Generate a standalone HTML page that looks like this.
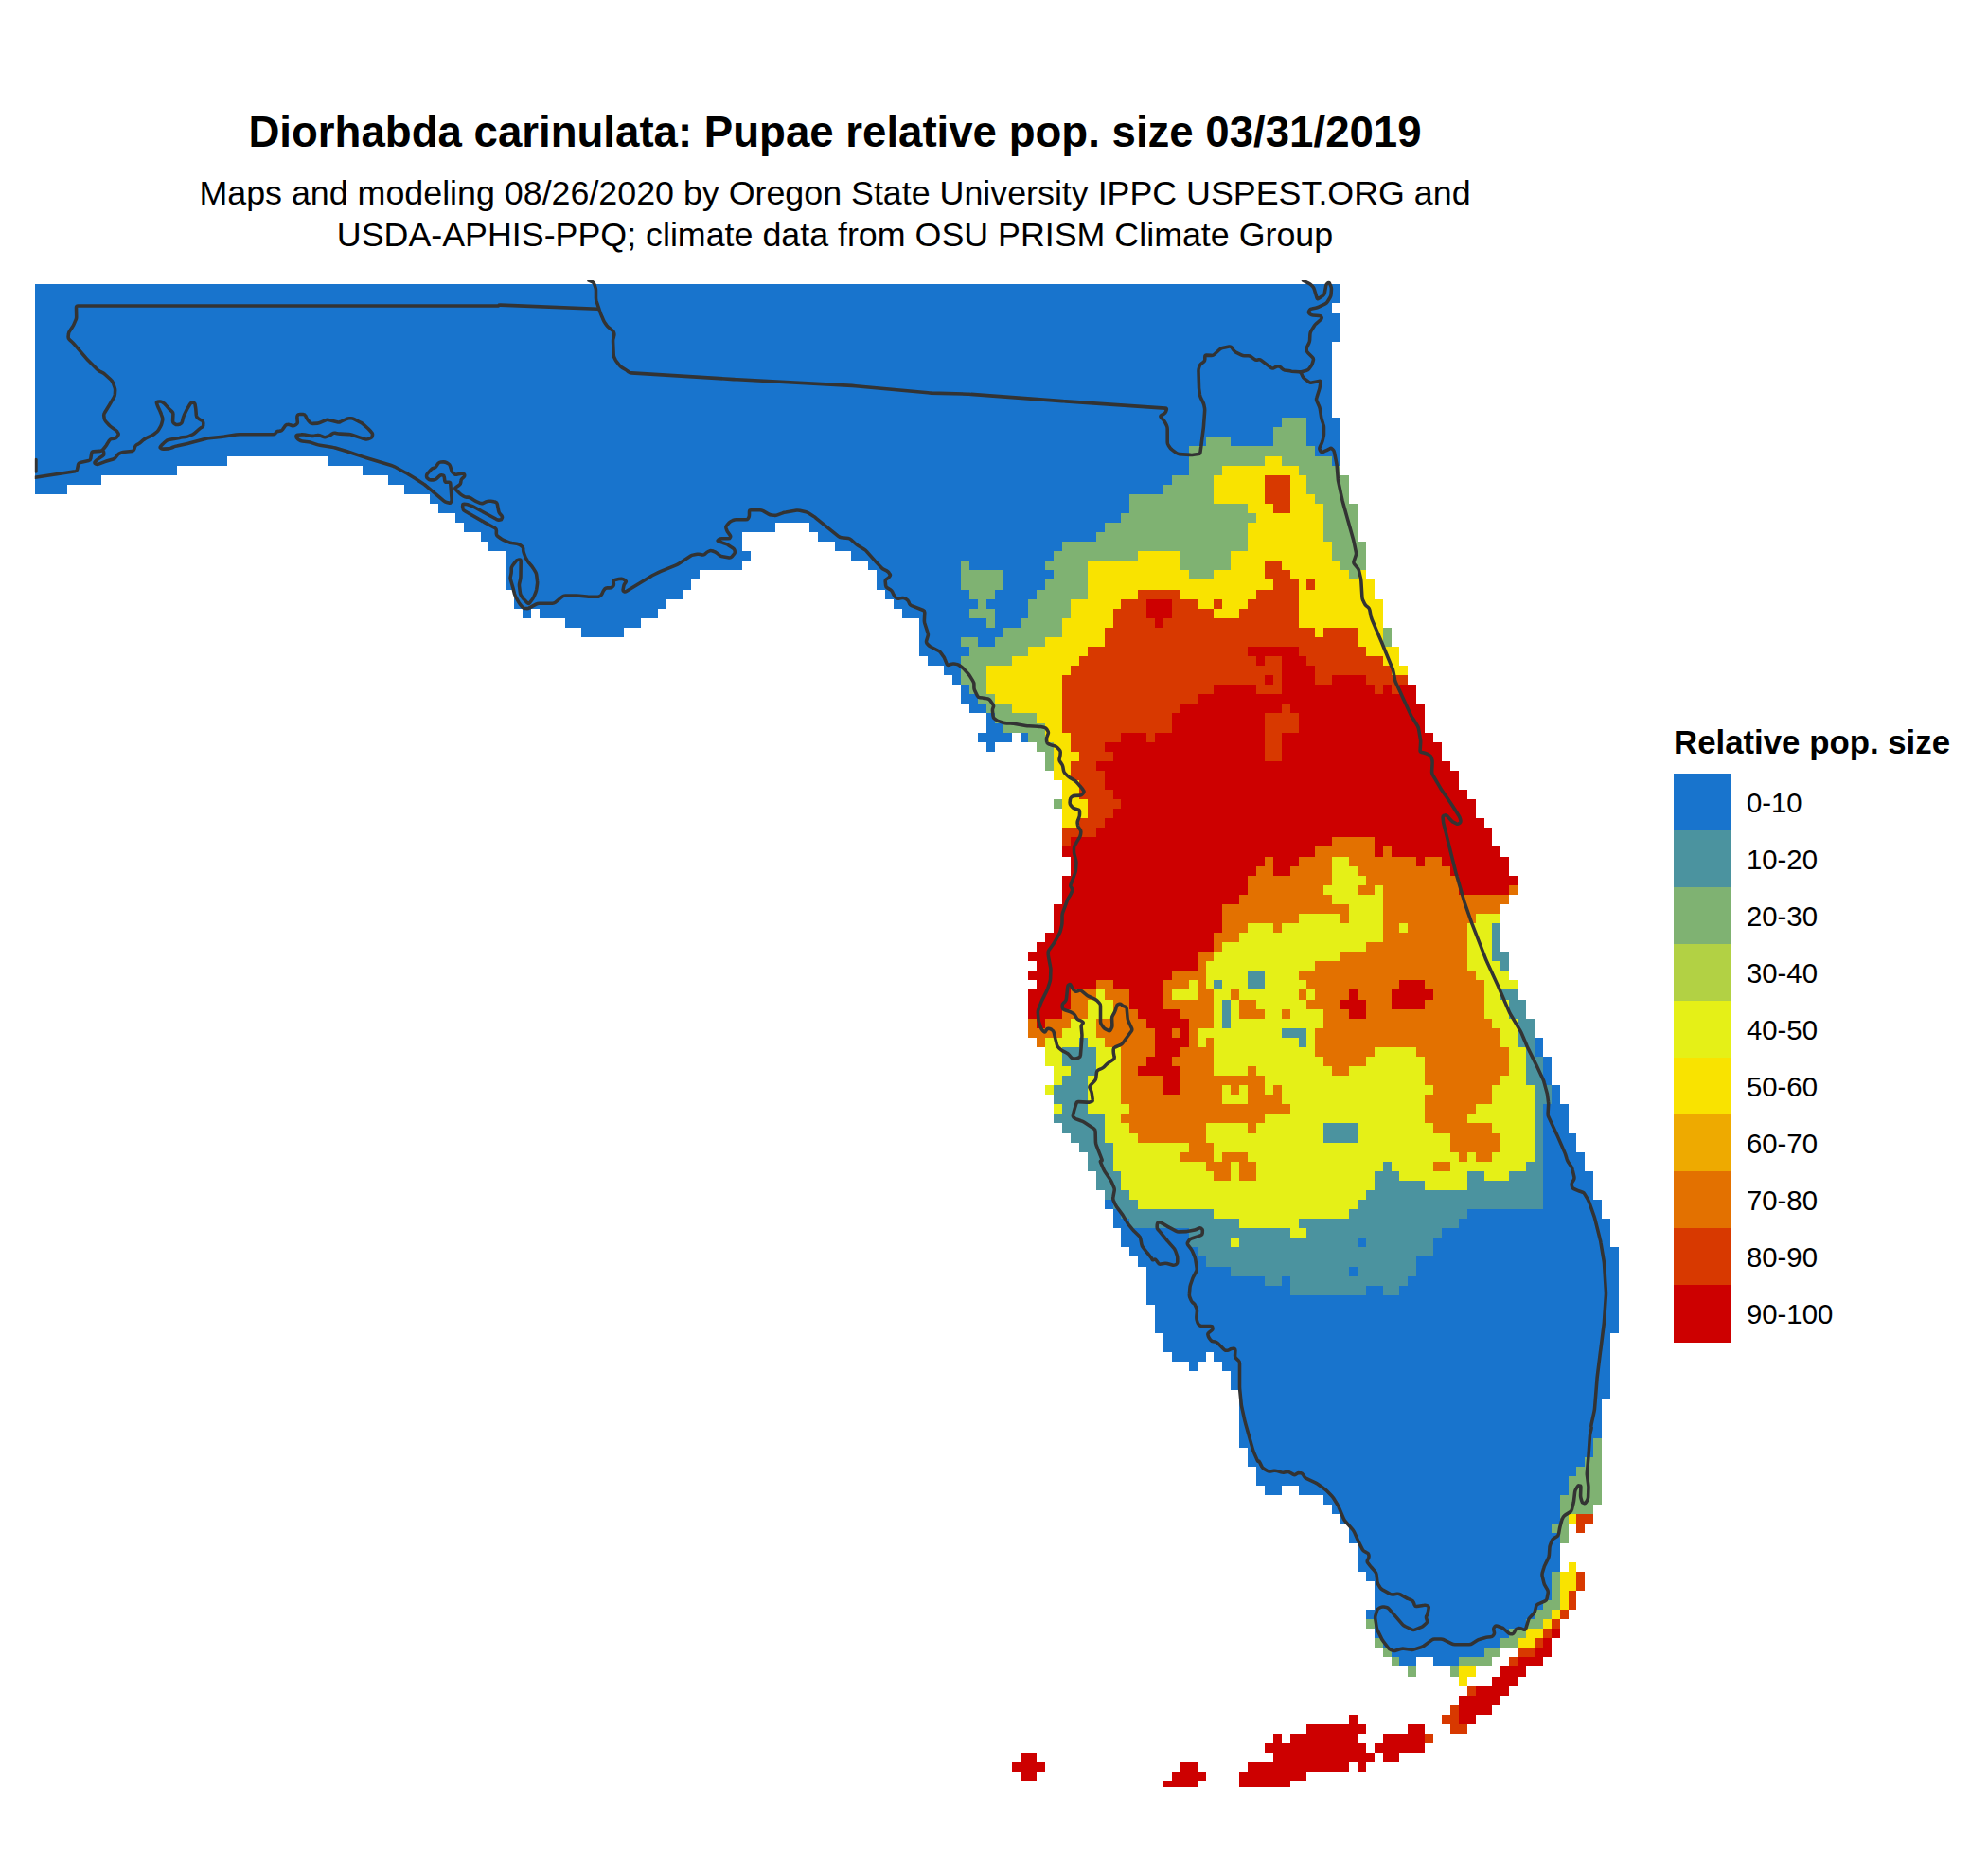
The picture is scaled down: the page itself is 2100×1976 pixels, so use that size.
<!DOCTYPE html>
<html><head><meta charset="utf-8"><title>Diorhabda carinulata: Pupae relative pop. size</title>
<style>
html,body{margin:0;padding:0;background:#fff}
body{width:2100px;height:1976px;position:relative;overflow:hidden;font-family:"Liberation Sans",Arial,Helvetica,sans-serif;color:#000}
</style></head><body>
<svg width="2100" height="1976" viewBox="0 0 2100 1976" style="position:absolute;left:0;top:0">
<g shape-rendering="crispEdges">
<path fill="#1874CD" d="M36.84 300H1416V310H36.84ZM36.84 310H1416V320H36.84ZM36.84 320H1407V331H36.84ZM36.84 331H1416V341H36.84ZM36.84 341H1416V351H36.84ZM36.84 351H1416V361H36.84ZM36.84 361H1407V371H36.84ZM36.84 371H1407V381H36.84ZM36.84 381H1407V391H36.84ZM36.84 391H1407V401H36.84ZM36.84 401H1407V411H36.84ZM36.84 411H1407V421H36.84ZM36.84 421H1407V431H36.84ZM36.84 431H1407V441H36.84ZM36.84 441H1354V451H36.84ZM1380 441H1416V451H1380ZM36.84 451H1345V461H36.84ZM1380 451H1416V461H1380ZM36.84 461H1274V471H36.84ZM1300 461H1345V471H1300ZM1380 461H1416V471H1380ZM36.84 471H1256V482H36.84ZM1389 471H1416V482H1389ZM36.84 482H240V492H36.84ZM347 482H1256V492H347ZM1407 482H1416V492H1407ZM36.84 492H187V502H36.84ZM383 492H1256V502H383ZM36.84 502H107V512H36.84ZM410 502H1238V512H410ZM36.84 512H71V522H36.84ZM427 512H1229V522H427ZM454 522H1193V532H454ZM463 532H1193V542H463ZM481 542H1184V552H481ZM490 552H819V562H490ZM855 552H1167V562H855ZM508 562H784V572H508ZM864 562H1158V572H864ZM516 572H784V582H516ZM882 572H1122V582H882ZM534 582H793V592H534ZM899 582H1113V592H899ZM534 592H784V602H534ZM917 592H1015V602H917ZM1024 592H1104V602H1024ZM534 602H739V612H534ZM926 602H1015V612H926ZM1060 602H1113V612H1060ZM534 612H730V623H534ZM926 612H1015V623H926ZM1060 612H1104V623H1060ZM543 623H721V633H543ZM935 623H1024V633H935ZM1051 623H1095V633H1051ZM543 633H703V643H543ZM944 633H1033V643H944ZM1042 633H1086V643H1042ZM552 643H561V653H552ZM570 643H695V653H570ZM953 643H1024V653H953ZM1051 643H1086V653H1051ZM597 653H677V663H597ZM971 653H1042V663H971ZM1051 653H1078V663H1051ZM614 663H659V673H614ZM971 663H1060V673H971ZM971 673H1015V683H971ZM1033 673H1051V683H1033ZM971 683H1024V693H971ZM980 693H1015V703H980ZM997 703H1015V713H997ZM1006 713H1015V723H1006ZM1015 723H1024V733H1015ZM1015 733H1033V743H1015ZM1024 743H1042V753H1024ZM1042 753H1051V764H1042ZM1042 764H1060V774H1042ZM1033 774H1069V784H1033ZM1078 774H1086V784H1078ZM1042 784H1051V794H1042ZM1621 1096H1630V1106H1621ZM1621 1106H1630V1116H1621ZM1630 1116H1639V1126H1630ZM1630 1126H1639V1136H1630ZM1630 1136H1639V1146H1630ZM1639 1146H1648V1156H1639ZM1639 1156H1648V1166H1639ZM1630 1166H1657V1176H1630ZM1630 1176H1657V1186H1630ZM1630 1186H1657V1197H1630ZM1630 1197H1665V1207H1630ZM1630 1207H1665V1217H1630ZM1630 1217H1674V1227H1630ZM1630 1227H1674V1237H1630ZM1630 1237H1683V1247H1630ZM1630 1247H1683V1257H1630ZM1630 1257H1683V1267H1630ZM1167 1267H1176V1277H1167ZM1630 1267H1692V1277H1630ZM1176 1277H1184V1287H1176ZM1550 1277H1692V1287H1550ZM1176 1287H1193V1297H1176ZM1541 1287H1701V1297H1541ZM1184 1297H1256V1307H1184ZM1523 1297H1701V1307H1523ZM1184 1307H1256V1317H1184ZM1434 1307H1443V1317H1434ZM1514 1307H1701V1317H1514ZM1193 1317H1265V1327H1193ZM1514 1317H1710V1327H1514ZM1202 1327H1274V1338H1202ZM1496 1327H1710V1338H1496ZM1211 1338H1300V1348H1211ZM1425 1338H1434V1348H1425ZM1496 1338H1710V1348H1496ZM1211 1348H1336V1358H1211ZM1354 1348H1363V1358H1354ZM1487 1348H1710V1358H1487ZM1211 1358H1363V1368H1211ZM1443 1358H1461V1368H1443ZM1478 1358H1710V1368H1478ZM1211 1368H1710V1378H1211ZM1220 1378H1710V1388H1220ZM1220 1388H1710V1398H1220ZM1220 1398H1710V1408H1220ZM1229 1408H1701V1418H1229ZM1229 1418H1701V1428H1229ZM1238 1428H1274V1438H1238ZM1282 1428H1701V1438H1282ZM1256 1438H1265V1448H1256ZM1291 1438H1701V1448H1291ZM1300 1448H1701V1458H1300ZM1300 1458H1701V1468H1300ZM1309 1468H1701V1478H1309ZM1309 1478H1692V1489H1309ZM1309 1489H1692V1499H1309ZM1309 1499H1692V1509H1309ZM1309 1509H1692V1519H1309ZM1309 1519H1683V1529H1309ZM1318 1529H1683V1539H1318ZM1318 1539H1674V1549H1318ZM1327 1549H1665V1559H1327ZM1327 1559H1657V1569H1327ZM1336 1569H1354V1579H1336ZM1372 1569H1657V1579H1372ZM1398 1579H1648V1589H1398ZM1407 1589H1648V1599H1407ZM1416 1599H1648V1609H1416ZM1425 1609H1639V1619H1425ZM1425 1619H1648V1630H1425ZM1434 1630H1648V1640H1434ZM1434 1640H1648V1650H1434ZM1434 1650H1648V1660H1434ZM1443 1660H1639V1670H1443ZM1452 1670H1639V1680H1452ZM1452 1680H1639V1690H1452ZM1452 1690H1630V1700H1452ZM1443 1700H1621V1710H1443ZM1452 1710H1612V1720H1452ZM1452 1720H1594V1730H1452ZM1461 1730H1585V1740H1461ZM1470 1740H1568V1750H1470ZM1478 1750H1496V1760H1478ZM1514 1750H1541V1760H1514Z"/>
<path fill="#7FB272" d="M1354 441H1380V451H1354ZM1345 451H1380V461H1345ZM1274 461H1300V471H1274ZM1345 461H1380V471H1345ZM1256 471H1389V482H1256ZM1256 482H1336V492H1256ZM1354 482H1407V492H1354ZM1256 492H1291V502H1256ZM1372 492H1416V502H1372ZM1238 502H1282V512H1238ZM1380 502H1425V512H1380ZM1229 512H1282V522H1229ZM1380 512H1425V522H1380ZM1193 522H1282V532H1193ZM1389 522H1425V532H1389ZM1193 532H1318V542H1193ZM1398 532H1434V542H1398ZM1184 542H1327V552H1184ZM1398 542H1434V552H1398ZM1167 552H1318V562H1167ZM1398 552H1434V562H1398ZM1158 562H1318V572H1158ZM1398 562H1434V572H1398ZM1122 572H1318V582H1122ZM1407 572H1443V582H1407ZM1113 582H1202V592H1113ZM1247 582H1300V592H1247ZM1407 582H1443V592H1407ZM1015 592H1024V602H1015ZM1104 592H1149V602H1104ZM1247 592H1300V602H1247ZM1416 592H1443V602H1416ZM1015 602H1060V612H1015ZM1113 602H1149V612H1113ZM1256 602H1282V612H1256ZM1425 602H1434V612H1425ZM1015 612H1060V623H1015ZM1104 612H1149V623H1104ZM1024 623H1051V633H1024ZM1095 623H1149V633H1095ZM1033 633H1042V643H1033ZM1086 633H1131V643H1086ZM1024 643H1051V653H1024ZM1086 643H1131V653H1086ZM1042 653H1051V663H1042ZM1078 653H1122V663H1078ZM1060 663H1122V673H1060ZM1461 663H1470V673H1461ZM1015 673H1033V683H1015ZM1051 673H1104V683H1051ZM1461 673H1470V683H1461ZM1024 683H1086V693H1024ZM1015 693H1069V703H1015ZM1015 703H1042V713H1015ZM1015 713H1042V723H1015ZM1024 723H1042V733H1024ZM1033 733H1051V743H1033ZM1042 743H1069V753H1042ZM1051 753H1095V764H1051ZM1060 764H1104V774H1060ZM1086 774H1104V784H1086ZM1095 784H1113V794H1095ZM1104 794H1113V804H1104ZM1104 804H1113V814H1104ZM1113 844H1122V854H1113ZM1683 1519H1692V1529H1683ZM1683 1529H1692V1539H1683ZM1674 1539H1692V1549H1674ZM1665 1549H1692V1559H1665ZM1657 1559H1692V1569H1657ZM1657 1569H1692V1579H1657ZM1648 1579H1692V1589H1648ZM1648 1589H1683V1599H1648ZM1648 1599H1657V1609H1648ZM1639 1609H1657V1619H1639ZM1648 1619H1657V1630H1648ZM1639 1660H1648V1670H1639ZM1639 1670H1648V1680H1639ZM1639 1680H1648V1690H1639ZM1630 1690H1648V1700H1630ZM1621 1700H1639V1710H1621ZM1443 1710H1452V1720H1443ZM1612 1710H1630V1720H1612ZM1594 1720H1612V1730H1594ZM1452 1730H1461V1740H1452ZM1585 1730H1603V1740H1585ZM1461 1740H1470V1750H1461ZM1568 1740H1585V1750H1568ZM1470 1750H1478V1760H1470ZM1541 1750H1576V1760H1541ZM1487 1760H1496V1771H1487ZM1532 1760H1541V1771H1532Z"/>
<path fill="#F9E300" d="M1336 482H1354V492H1336ZM1291 492H1372V502H1291ZM1282 502H1336V512H1282ZM1363 502H1380V512H1363ZM1282 512H1336V522H1282ZM1363 512H1380V522H1363ZM1282 522H1336V532H1282ZM1363 522H1389V532H1363ZM1318 532H1345V542H1318ZM1363 532H1398V542H1363ZM1327 542H1398V552H1327ZM1318 552H1398V562H1318ZM1318 562H1398V572H1318ZM1318 572H1407V582H1318ZM1202 582H1247V592H1202ZM1300 582H1407V592H1300ZM1149 592H1247V602H1149ZM1300 592H1336V602H1300ZM1354 592H1416V602H1354ZM1149 602H1256V612H1149ZM1282 602H1336V612H1282ZM1363 602H1425V612H1363ZM1434 602H1443V612H1434ZM1149 612H1345V623H1149ZM1372 612H1380V623H1372ZM1389 612H1452V623H1389ZM1149 623H1202V633H1149ZM1247 623H1327V633H1247ZM1372 623H1452V633H1372ZM1131 633H1184V643H1131ZM1265 633H1282V643H1265ZM1291 633H1318V643H1291ZM1372 633H1461V643H1372ZM1131 643H1176V653H1131ZM1282 643H1309V653H1282ZM1372 643H1461V653H1372ZM1122 653H1176V663H1122ZM1372 653H1461V663H1372ZM1122 663H1167V673H1122ZM1389 663H1398V673H1389ZM1434 663H1461V673H1434ZM1104 673H1167V683H1104ZM1434 673H1461V683H1434ZM1086 683H1149V693H1086ZM1443 683H1478V693H1443ZM1069 693H1140V703H1069ZM1461 693H1478V703H1461ZM1042 703H1131V713H1042ZM1470 703H1487V713H1470ZM1042 713H1122V723H1042ZM1042 723H1122V733H1042ZM1051 733H1122V743H1051ZM1069 743H1122V753H1069ZM1095 753H1122V764H1095ZM1104 764H1122V774H1104ZM1104 774H1131V784H1104ZM1113 784H1131V794H1113ZM1113 794H1140V804H1113ZM1113 804H1131V814H1113ZM1113 814H1131V824H1113ZM1122 824H1140V834H1122ZM1122 834H1140V844H1122ZM1122 844H1149V854H1122ZM1122 854H1149V864H1122ZM1122 864H1140V874H1122ZM1657 1599H1665V1609H1657ZM1657 1650H1665V1660H1657ZM1648 1660H1665V1670H1648ZM1648 1670H1665V1680H1648ZM1648 1680H1657V1690H1648ZM1648 1690H1657V1700H1648ZM1639 1700H1648V1710H1639ZM1630 1710H1639V1720H1630ZM1612 1720H1630V1730H1612ZM1603 1730H1621V1740H1603ZM1541 1760H1559V1771H1541ZM1541 1771H1550V1781H1541Z"/>
<path fill="#D83900" d="M1336 502H1363V512H1336ZM1336 512H1363V522H1336ZM1336 522H1363V532H1336ZM1345 532H1363V542H1345ZM1336 592H1354V602H1336ZM1336 602H1363V612H1336ZM1345 612H1372V623H1345ZM1380 612H1389V623H1380ZM1202 623H1247V633H1202ZM1327 623H1372V633H1327ZM1184 633H1211V643H1184ZM1238 633H1265V643H1238ZM1282 633H1291V643H1282ZM1318 633H1372V643H1318ZM1176 643H1211V653H1176ZM1238 643H1282V653H1238ZM1309 643H1372V653H1309ZM1176 653H1220V663H1176ZM1229 653H1372V663H1229ZM1167 663H1389V673H1167ZM1398 663H1434V673H1398ZM1167 673H1434V683H1167ZM1149 683H1318V693H1149ZM1372 683H1443V693H1372ZM1140 693H1327V703H1140ZM1336 693H1354V703H1336ZM1380 693H1461V703H1380ZM1131 703H1354V713H1131ZM1389 703H1470V713H1389ZM1122 713H1336V723H1122ZM1345 713H1354V723H1345ZM1389 713H1407V723H1389ZM1443 713H1487V723H1443ZM1122 723H1282V733H1122ZM1327 723H1354V733H1327ZM1452 723H1461V733H1452ZM1470 723H1478V733H1470ZM1122 733H1265V743H1122ZM1122 743H1247V753H1122ZM1354 743H1363V753H1354ZM1122 753H1238V764H1122ZM1336 753H1372V764H1336ZM1122 764H1238V774H1122ZM1336 764H1372V774H1336ZM1131 774H1184V784H1131ZM1211 774H1220V784H1211ZM1336 774H1354V784H1336ZM1131 784H1167V794H1131ZM1336 784H1354V794H1336ZM1140 794H1176V804H1140ZM1336 794H1354V804H1336ZM1131 804H1158V814H1131ZM1131 814H1167V824H1131ZM1140 824H1167V834H1140ZM1140 834H1176V844H1140ZM1149 844H1184V854H1149ZM1149 854H1176V864H1149ZM1140 864H1167V874H1140ZM1122 874H1158V884H1122ZM1122 884H1131V894H1122ZM1665 1599H1683V1609H1665ZM1665 1609H1674V1619H1665ZM1665 1660H1674V1670H1665ZM1665 1670H1674V1680H1665ZM1657 1680H1665V1690H1657ZM1657 1690H1665V1700H1657ZM1648 1700H1657V1710H1648ZM1639 1710H1648V1720H1639ZM1630 1720H1639V1730H1630ZM1621 1730H1630V1740H1621ZM1603 1740H1621V1750H1603ZM1594 1750H1603V1760H1594ZM1550 1781H1559V1791H1550ZM1532 1801H1541V1811H1532ZM1523 1811H1541V1821H1523ZM1532 1821H1550V1831H1532ZM1505 1831H1514V1841H1505Z"/>
<path fill="#CD0000" d="M1211 633H1238V643H1211ZM1211 643H1238V653H1211ZM1220 653H1229V663H1220ZM1318 683H1372V693H1318ZM1327 693H1336V703H1327ZM1354 693H1380V703H1354ZM1354 703H1389V713H1354ZM1336 713H1345V723H1336ZM1354 713H1389V723H1354ZM1407 713H1443V723H1407ZM1282 723H1327V733H1282ZM1354 723H1452V733H1354ZM1461 723H1470V733H1461ZM1478 723H1496V733H1478ZM1265 733H1496V743H1265ZM1247 743H1354V753H1247ZM1363 743H1505V753H1363ZM1238 753H1336V764H1238ZM1372 753H1505V764H1372ZM1238 764H1336V774H1238ZM1372 764H1505V774H1372ZM1184 774H1211V784H1184ZM1220 774H1336V784H1220ZM1354 774H1514V784H1354ZM1167 784H1336V794H1167ZM1354 784H1523V794H1354ZM1176 794H1336V804H1176ZM1354 794H1523V804H1354ZM1158 804H1532V814H1158ZM1167 814H1541V824H1167ZM1167 824H1541V834H1167ZM1176 834H1550V844H1176ZM1184 844H1559V854H1184ZM1176 854H1559V864H1176ZM1167 864H1568V874H1167ZM1158 874H1576V884H1158ZM1131 884H1407V894H1131ZM1452 884H1576V894H1452ZM1122 894H1389V905H1122ZM1452 894H1461V905H1452ZM1470 894H1585V905H1470ZM1131 905H1336V915H1131ZM1345 905H1372V915H1345ZM1496 905H1505V915H1496ZM1523 905H1594V915H1523ZM1131 915H1327V925H1131ZM1345 915H1363V925H1345ZM1532 915H1594V925H1532ZM1122 925H1318V935H1122ZM1541 925H1603V935H1541ZM1122 935H1318V945H1122ZM1541 935H1594V945H1541ZM1122 945H1309V955H1122ZM1113 955H1291V965H1113ZM1113 965H1291V975H1113ZM1113 975H1291V985H1113ZM1104 985H1282V995H1104ZM1095 995H1282V1005H1095ZM1086 1005H1265V1015H1086ZM1095 1015H1265V1025H1095ZM1086 1025H1238V1035H1086ZM1095 1035H1158V1045H1095ZM1176 1035H1229V1045H1176ZM1478 1035H1505V1045H1478ZM1086 1045H1131V1056H1086ZM1193 1045H1229V1056H1193ZM1425 1045H1434V1056H1425ZM1470 1045H1514V1056H1470ZM1086 1056H1131V1066H1086ZM1193 1056H1229V1066H1193ZM1416 1056H1443V1066H1416ZM1470 1056H1505V1066H1470ZM1086 1066H1122V1076H1086ZM1202 1066H1247V1076H1202ZM1425 1066H1443V1076H1425ZM1095 1076H1104V1086H1095ZM1211 1076H1256V1086H1211ZM1220 1086H1238V1096H1220ZM1247 1086H1256V1096H1247ZM1220 1096H1256V1106H1220ZM1220 1106H1247V1116H1220ZM1211 1116H1238V1126H1211ZM1202 1126H1247V1136H1202ZM1229 1136H1247V1146H1229ZM1229 1146H1247V1156H1229ZM1639 1720H1648V1730H1639ZM1630 1730H1639V1740H1630ZM1621 1740H1639V1750H1621ZM1603 1750H1630V1760H1603ZM1585 1760H1612V1771H1585ZM1576 1771H1603V1781H1576ZM1559 1781H1594V1791H1559ZM1541 1791H1585V1801H1541ZM1541 1801H1576V1811H1541ZM1425 1811H1434V1821H1425ZM1541 1811H1559V1821H1541ZM1380 1821H1443V1831H1380ZM1487 1821H1505V1831H1487ZM1345 1831H1354V1841H1345ZM1363 1831H1434V1841H1363ZM1461 1831H1505V1841H1461ZM1336 1841H1443V1851H1336ZM1452 1841H1505V1851H1452ZM1078 1851H1095V1861H1078ZM1345 1851H1452V1861H1345ZM1461 1851H1478V1861H1461ZM1069 1861H1104V1871H1069ZM1247 1861H1265V1871H1247ZM1318 1861H1425V1871H1318ZM1434 1861H1443V1871H1434ZM1078 1871H1095V1881H1078ZM1238 1871H1274V1881H1238ZM1309 1871H1380V1881H1309ZM1229 1881H1265V1886.75H1229ZM1309 1881H1363V1886.75H1309Z"/>
<path fill="#E37100" d="M1407 884H1452V894H1407ZM1389 894H1452V905H1389ZM1461 894H1470V905H1461ZM1336 905H1345V915H1336ZM1372 905H1407V915H1372ZM1425 905H1496V915H1425ZM1505 905H1523V915H1505ZM1327 915H1345V925H1327ZM1363 915H1407V925H1363ZM1434 915H1532V925H1434ZM1318 925H1407V935H1318ZM1443 925H1541V935H1443ZM1318 935H1398V945H1318ZM1434 935H1452V945H1434ZM1461 935H1541V945H1461ZM1594 935H1603V945H1594ZM1309 945H1407V955H1309ZM1461 945H1594V955H1461ZM1291 955H1425V965H1291ZM1461 955H1585V965H1461ZM1291 965H1372V975H1291ZM1416 965H1425V975H1416ZM1461 965H1559V975H1461ZM1291 975H1318V985H1291ZM1345 975H1354V985H1345ZM1461 975H1478V985H1461ZM1487 975H1550V985H1487ZM1282 985H1309V995H1282ZM1461 985H1550V995H1461ZM1282 995H1291V1005H1282ZM1443 995H1550V1005H1443ZM1265 1005H1282V1015H1265ZM1416 1005H1550V1015H1416ZM1265 1015H1274V1025H1265ZM1389 1015H1550V1025H1389ZM1238 1025H1274V1035H1238ZM1372 1025H1559V1035H1372ZM1158 1035H1176V1045H1158ZM1229 1035H1256V1045H1229ZM1265 1035H1274V1045H1265ZM1380 1035H1478V1045H1380ZM1505 1035H1568V1045H1505ZM1131 1045H1158V1056H1131ZM1167 1045H1193V1056H1167ZM1229 1045H1238V1056H1229ZM1265 1045H1282V1056H1265ZM1300 1045H1309V1056H1300ZM1372 1045H1380V1056H1372ZM1389 1045H1425V1056H1389ZM1434 1045H1470V1056H1434ZM1514 1045H1568V1056H1514ZM1131 1056H1149V1066H1131ZM1176 1056H1193V1066H1176ZM1229 1056H1282V1066H1229ZM1309 1056H1327V1066H1309ZM1380 1056H1416V1066H1380ZM1443 1056H1470V1066H1443ZM1505 1056H1568V1066H1505ZM1122 1066H1149V1076H1122ZM1176 1066H1202V1076H1176ZM1247 1066H1282V1076H1247ZM1309 1066H1336V1076H1309ZM1354 1066H1363V1076H1354ZM1398 1066H1425V1076H1398ZM1443 1066H1568V1076H1443ZM1086 1076H1095V1086H1086ZM1104 1076H1131V1086H1104ZM1158 1076H1211V1086H1158ZM1256 1076H1282V1086H1256ZM1398 1076H1576V1086H1398ZM1086 1086H1122V1096H1086ZM1158 1086H1220V1096H1158ZM1238 1086H1247V1096H1238ZM1256 1086H1265V1096H1256ZM1389 1086H1585V1096H1389ZM1095 1096H1104V1106H1095ZM1167 1096H1220V1106H1167ZM1256 1096H1265V1106H1256ZM1274 1096H1282V1106H1274ZM1389 1096H1585V1106H1389ZM1184 1106H1220V1116H1184ZM1247 1106H1282V1116H1247ZM1389 1106H1452V1116H1389ZM1496 1106H1594V1116H1496ZM1184 1116H1211V1126H1184ZM1238 1116H1282V1126H1238ZM1398 1116H1443V1126H1398ZM1505 1116H1594V1126H1505ZM1184 1126H1202V1136H1184ZM1247 1126H1282V1136H1247ZM1318 1126H1327V1136H1318ZM1407 1126H1425V1136H1407ZM1505 1126H1594V1136H1505ZM1184 1136H1229V1146H1184ZM1247 1136H1336V1146H1247ZM1505 1136H1585V1146H1505ZM1184 1146H1229V1156H1184ZM1247 1146H1291V1156H1247ZM1300 1146H1309V1156H1300ZM1318 1146H1336V1156H1318ZM1345 1146H1354V1156H1345ZM1514 1146H1576V1156H1514ZM1184 1156H1291V1166H1184ZM1318 1156H1354V1166H1318ZM1505 1156H1576V1166H1505ZM1193 1166H1363V1176H1193ZM1505 1166H1559V1176H1505ZM1184 1176H1336V1186H1184ZM1505 1176H1550V1186H1505ZM1193 1186H1274V1197H1193ZM1318 1186H1327V1197H1318ZM1514 1186H1576V1197H1514ZM1202 1197H1274V1207H1202ZM1532 1197H1585V1207H1532ZM1256 1207H1282V1217H1256ZM1532 1207H1585V1217H1532ZM1247 1217H1282V1227H1247ZM1291 1217H1318V1227H1291ZM1541 1217H1550V1227H1541ZM1559 1217H1576V1227H1559ZM1274 1227H1300V1237H1274ZM1309 1227H1327V1237H1309ZM1514 1227H1532V1237H1514ZM1282 1237H1300V1247H1282ZM1309 1237H1327V1247H1309Z"/>
<path fill="#E5F017" d="M1407 905H1425V915H1407ZM1407 915H1434V925H1407ZM1407 925H1443V935H1407ZM1398 935H1434V945H1398ZM1452 935H1461V945H1452ZM1407 945H1461V955H1407ZM1425 955H1461V965H1425ZM1372 965H1416V975H1372ZM1425 965H1461V975H1425ZM1559 965H1585V975H1559ZM1318 975H1345V985H1318ZM1354 975H1461V985H1354ZM1478 975H1487V985H1478ZM1550 975H1576V985H1550ZM1309 985H1461V995H1309ZM1550 985H1576V995H1550ZM1291 995H1443V1005H1291ZM1550 995H1576V1005H1550ZM1282 1005H1416V1015H1282ZM1550 1005H1576V1015H1550ZM1274 1015H1389V1025H1274ZM1550 1015H1585V1025H1550ZM1274 1025H1318V1035H1274ZM1336 1025H1372V1035H1336ZM1559 1025H1594V1035H1559ZM1256 1035H1265V1045H1256ZM1274 1035H1282V1045H1274ZM1291 1035H1318V1045H1291ZM1336 1035H1380V1045H1336ZM1568 1035H1603V1045H1568ZM1158 1045H1167V1056H1158ZM1238 1045H1265V1056H1238ZM1282 1045H1300V1056H1282ZM1309 1045H1372V1056H1309ZM1380 1045H1389V1056H1380ZM1568 1045H1585V1056H1568ZM1149 1056H1176V1066H1149ZM1282 1056H1291V1066H1282ZM1300 1056H1309V1066H1300ZM1327 1056H1380V1066H1327ZM1568 1056H1594V1066H1568ZM1149 1066H1176V1076H1149ZM1282 1066H1291V1076H1282ZM1300 1066H1309V1076H1300ZM1336 1066H1354V1076H1336ZM1363 1066H1398V1076H1363ZM1568 1066H1594V1076H1568ZM1131 1076H1158V1086H1131ZM1282 1076H1291V1086H1282ZM1300 1076H1398V1086H1300ZM1576 1076H1603V1086H1576ZM1122 1086H1158V1096H1122ZM1265 1086H1354V1096H1265ZM1380 1086H1389V1096H1380ZM1585 1086H1603V1096H1585ZM1104 1096H1140V1106H1104ZM1149 1096H1167V1106H1149ZM1265 1096H1274V1106H1265ZM1282 1096H1372V1106H1282ZM1380 1096H1389V1106H1380ZM1585 1096H1603V1106H1585ZM1104 1106H1122V1116H1104ZM1158 1106H1184V1116H1158ZM1282 1106H1389V1116H1282ZM1452 1106H1496V1116H1452ZM1594 1106H1612V1116H1594ZM1104 1116H1122V1126H1104ZM1158 1116H1184V1126H1158ZM1282 1116H1398V1126H1282ZM1443 1116H1505V1126H1443ZM1594 1116H1612V1126H1594ZM1113 1126H1131V1136H1113ZM1158 1126H1184V1136H1158ZM1282 1126H1318V1136H1282ZM1327 1126H1407V1136H1327ZM1425 1126H1505V1136H1425ZM1594 1126H1612V1136H1594ZM1113 1136H1122V1146H1113ZM1149 1136H1184V1146H1149ZM1336 1136H1505V1146H1336ZM1585 1136H1612V1146H1585ZM1104 1146H1113V1156H1104ZM1149 1146H1184V1156H1149ZM1291 1146H1300V1156H1291ZM1309 1146H1318V1156H1309ZM1336 1146H1345V1156H1336ZM1354 1146H1514V1156H1354ZM1576 1146H1621V1156H1576ZM1149 1156H1184V1166H1149ZM1291 1156H1318V1166H1291ZM1354 1156H1505V1166H1354ZM1576 1156H1621V1166H1576ZM1113 1166H1122V1176H1113ZM1149 1166H1193V1176H1149ZM1363 1166H1505V1176H1363ZM1559 1166H1621V1176H1559ZM1167 1176H1184V1186H1167ZM1336 1176H1505V1186H1336ZM1550 1176H1621V1186H1550ZM1167 1186H1193V1197H1167ZM1274 1186H1318V1197H1274ZM1327 1186H1398V1197H1327ZM1434 1186H1514V1197H1434ZM1576 1186H1621V1197H1576ZM1167 1197H1202V1207H1167ZM1274 1197H1398V1207H1274ZM1434 1197H1532V1207H1434ZM1585 1197H1621V1207H1585ZM1176 1207H1256V1217H1176ZM1282 1207H1532V1217H1282ZM1585 1207H1621V1217H1585ZM1176 1217H1247V1227H1176ZM1282 1217H1291V1227H1282ZM1318 1217H1541V1227H1318ZM1550 1217H1559V1227H1550ZM1576 1217H1621V1227H1576ZM1176 1227H1274V1237H1176ZM1300 1227H1309V1237H1300ZM1327 1227H1461V1237H1327ZM1470 1227H1514V1237H1470ZM1532 1227H1612V1237H1532ZM1184 1237H1282V1247H1184ZM1300 1237H1309V1247H1300ZM1327 1237H1452V1247H1327ZM1478 1237H1550V1247H1478ZM1568 1237H1594V1247H1568ZM1184 1247H1452V1257H1184ZM1505 1247H1550V1257H1505ZM1193 1257H1443V1267H1193ZM1202 1267H1434V1277H1202ZM1282 1277H1425V1287H1282ZM1309 1287H1372V1297H1309ZM1363 1297H1380V1307H1363ZM1300 1307H1309V1317H1300Z"/>
<path fill="#4B939F" d="M1576 975H1585V985H1576ZM1576 985H1585V995H1576ZM1576 995H1585V1005H1576ZM1576 1005H1594V1015H1576ZM1585 1015H1594V1025H1585ZM1318 1025H1336V1035H1318ZM1282 1035H1291V1045H1282ZM1318 1035H1336V1045H1318ZM1585 1045H1603V1056H1585ZM1291 1056H1300V1066H1291ZM1594 1056H1612V1066H1594ZM1291 1066H1300V1076H1291ZM1594 1066H1612V1076H1594ZM1291 1076H1300V1086H1291ZM1603 1076H1621V1086H1603ZM1354 1086H1380V1096H1354ZM1603 1086H1621V1096H1603ZM1140 1096H1149V1106H1140ZM1372 1096H1380V1106H1372ZM1603 1096H1621V1106H1603ZM1122 1106H1158V1116H1122ZM1612 1106H1621V1116H1612ZM1122 1116H1158V1126H1122ZM1612 1116H1630V1126H1612ZM1131 1126H1158V1136H1131ZM1612 1126H1630V1136H1612ZM1122 1136H1149V1146H1122ZM1612 1136H1630V1146H1612ZM1113 1146H1149V1156H1113ZM1621 1146H1639V1156H1621ZM1113 1156H1149V1166H1113ZM1621 1156H1639V1166H1621ZM1122 1166H1149V1176H1122ZM1621 1166H1630V1176H1621ZM1113 1176H1167V1186H1113ZM1621 1176H1630V1186H1621ZM1122 1186H1167V1197H1122ZM1398 1186H1434V1197H1398ZM1621 1186H1630V1197H1621ZM1131 1197H1167V1207H1131ZM1398 1197H1434V1207H1398ZM1621 1197H1630V1207H1621ZM1140 1207H1176V1217H1140ZM1621 1207H1630V1217H1621ZM1149 1217H1176V1227H1149ZM1621 1217H1630V1227H1621ZM1149 1227H1176V1237H1149ZM1461 1227H1470V1237H1461ZM1612 1227H1630V1237H1612ZM1158 1237H1184V1247H1158ZM1452 1237H1478V1247H1452ZM1550 1237H1568V1247H1550ZM1594 1237H1630V1247H1594ZM1158 1247H1184V1257H1158ZM1452 1247H1505V1257H1452ZM1550 1247H1630V1257H1550ZM1167 1257H1193V1267H1167ZM1443 1257H1630V1267H1443ZM1176 1267H1202V1277H1176ZM1434 1267H1630V1277H1434ZM1184 1277H1282V1287H1184ZM1425 1277H1550V1287H1425ZM1193 1287H1309V1297H1193ZM1372 1287H1541V1297H1372ZM1256 1297H1363V1307H1256ZM1380 1297H1523V1307H1380ZM1256 1307H1300V1317H1256ZM1309 1307H1434V1317H1309ZM1443 1307H1514V1317H1443ZM1265 1317H1514V1327H1265ZM1274 1327H1496V1338H1274ZM1300 1338H1425V1348H1300ZM1434 1338H1496V1348H1434ZM1336 1348H1354V1358H1336ZM1363 1348H1487V1358H1363ZM1363 1358H1443V1368H1363ZM1461 1358H1478V1368H1461Z"/>
</g>
<defs><clipPath id="mapclip"><rect x="36.8" y="296" width="1700" height="1590.75"/></clipPath></defs>
<g clip-path="url(#mapclip)" fill="none" stroke="#333" stroke-width="3.56" stroke-linejoin="round" stroke-linecap="round">
<path d="M37.0 504.2L79.5 497.8Q81.2 497.5 81.6 495.7L82.6 490.5Q83.0 488.8 84.8 488.4L93.7 486.6Q95.5 486.2 95.8 484.5L96.7 478.8Q97.0 477.0 98.8 476.9L105.7 476.4Q107.5 476.2 108.6 475.0L110.1 473.3Q111.2 472.0 112.2 470.5L115.3 465.3Q116.2 463.8 118.0 463.5L120.7 463.2Q122.5 463.0 123.4 461.7L124.6 460.0Q125.5 458.8 125.0 457.8L124.3 456.5Q123.8 455.5 122.3 454.4L117.7 451.1Q116.2 450.0 115.0 448.7L111.7 445.1Q110.5 443.8 110.2 442.0L109.8 439.3Q109.5 437.5 110.5 436.0L114.0 430.3Q115.0 428.8 115.9 427.2L120.3 419.6Q121.2 418.0 121.4 416.2L121.6 413.0Q121.8 411.2 121.2 409.5L119.3 404.2Q118.8 402.5 117.4 401.3L111.3 395.7Q110.0 394.5 108.4 393.7L105.3 392.1Q103.8 391.2 102.5 390.0L93.8 381.3Q92.5 380.0 91.3 378.6L78.7 363.9Q77.5 362.5 76.2 361.3L73.3 358.7Q72.0 357.5 72.1 355.7L72.4 353.0Q72.5 351.2 73.5 349.8L76.5 345.2Q77.5 343.8 78.2 342.1L80.0 337.9Q80.8 336.2 80.7 334.5L80.5 324.8Q80.5 323.0 82.3 323.0L525.0 323.0Q526.8 323.0 526.8 322.7L526.9 322.3Q527.0 322.0 528.8 322.1L631.5 326.2"/>
<path d="M37.9 485.5L37.9 498.0"/>
<path d="M622.0 296.2L625.5 297.5Q627.0 298.0 627.6 299.7L628.9 303.3Q629.5 305.0 629.5 306.8L629.5 314.4Q629.5 316.2 630.0 318.0L631.0 320.8Q631.5 322.5 632.1 324.2L633.9 329.5Q634.5 331.2 635.2 332.9L637.5 338.3Q638.2 340.0 639.3 341.4L640.9 343.6Q642.0 345.0 643.4 346.1L646.8 348.9Q648.2 350.0 648.5 351.1L648.8 352.6Q649.0 353.8 648.5 355.2L648.0 357.2Q647.5 358.8 647.6 360.5L648.2 374.5Q648.2 376.2 649.0 377.8L650.0 379.8Q650.8 381.2 651.9 382.7L654.6 386.1Q655.8 387.5 657.3 388.4L660.5 390.3Q662.0 391.2 663.0 392.0L664.3 393.0Q665.2 393.8 667.0 393.9L775.2 400.6Q777.0 400.8 778.8 400.8L900.2 407.4Q902.0 407.5 903.8 407.7L980.2 414.8Q982.0 415.0 983.8 415.1L1022.0 416.2Q1023.8 416.2 1023.8 416.2L1023.9 416.2Q1024.0 416.2 1025.8 416.4L1122.2 423.6Q1124.0 423.8 1125.8 423.9L1231.0 431.1Q1232.8 431.2 1232.2 432.8L1231.5 434.8Q1231.0 436.2 1229.4 437.1L1226.8 438.6Q1225.2 439.5 1226.5 440.8L1229.0 443.7Q1230.2 445.0 1231.0 446.6L1232.5 449.6Q1233.2 451.2 1233.2 453.1L1233.2 466.9Q1233.2 468.8 1234.2 470.2L1235.5 472.2Q1236.5 473.8 1237.9 474.8L1242.6 478.4Q1244.0 479.5 1245.8 479.6L1257.2 480.4Q1259.0 480.5 1260.8 480.2L1266.0 479.5Q1267.8 479.2 1268.0 477.5L1268.8 471.8Q1269.0 470.0 1269.2 468.2L1271.3 451.8Q1271.5 450.0 1271.6 448.2L1272.6 434.3Q1272.8 432.5 1272.4 430.7L1271.9 428.0Q1271.5 426.2 1270.7 424.6L1268.6 420.4Q1267.8 418.8 1267.5 417.0L1266.8 411.8Q1266.5 410.0 1266.5 408.2L1266.0 391.8Q1266.0 390.0 1266.5 388.5L1267.2 386.5Q1267.8 385.0 1269.2 383.9L1271.3 382.3Q1272.8 381.2 1272.8 379.4L1272.8 376.8Q1272.8 375.0 1274.5 375.1L1279.7 375.4Q1281.5 375.5 1282.8 374.3L1288.2 369.2Q1289.5 368.0 1291.3 367.6L1298.5 366.1Q1300.2 365.8 1301.3 367.2L1303.0 369.8Q1304.0 371.2 1305.6 372.1L1311.1 374.9Q1312.8 375.8 1314.5 375.8L1318.5 375.8Q1320.2 375.8 1321.7 376.8L1325.1 379.4Q1326.5 380.5 1327.8 380.2L1329.7 379.8Q1331.0 379.5 1332.4 380.6L1342.6 388.4Q1344.0 389.5 1345.5 388.7L1347.5 387.6Q1349.0 386.8 1349.9 386.8L1351.1 386.9Q1352.0 387.0 1353.0 388.1L1354.3 389.4Q1355.2 390.5 1357.0 390.9L1361.0 391.6Q1362.8 392.0 1364.5 392.2L1372.2 392.8Q1374.0 393.0 1375.7 392.5L1380.3 391.2Q1382.0 390.8 1383.0 389.3L1385.0 386.5Q1386.0 385.0 1386.5 383.3L1387.3 380.5Q1387.8 378.8 1386.5 377.5L1381.5 372.5Q1380.2 371.2 1380.2 370.1L1380.2 368.6Q1380.2 367.5 1381.0 365.9L1382.7 362.4Q1383.5 360.8 1383.6 359.0L1383.9 353.0Q1384.0 351.2 1384.9 349.7L1388.1 344.5Q1389.0 343.0 1390.3 341.8L1395.2 337.5Q1396.5 336.2 1396.1 335.5L1395.6 334.5Q1395.2 333.8 1393.5 333.6L1387.0 333.1Q1385.2 333.0 1384.3 332.1L1383.0 330.9Q1382.0 330.0 1382.6 328.9L1383.4 327.4Q1384.0 326.2 1385.8 326.0L1389.7 325.3Q1391.5 325.0 1393.1 324.2L1399.9 320.8Q1401.5 320.0 1402.4 318.5L1405.1 314.0Q1406.0 312.5 1406.1 310.7L1406.4 305.5Q1406.5 303.8 1405.8 302.1L1404.7 299.7Q1404.0 298.0 1403.1 298.6L1401.9 299.4Q1401.0 300.0 1400.7 301.8L1399.3 309.5Q1399.0 311.2 1397.5 312.2L1393.0 315.3Q1391.5 316.2 1391.0 314.5L1388.3 305.5Q1387.8 303.8 1386.6 302.6L1385.1 301.1Q1384.0 300.0 1382.4 299.2L1376.5 296.2"/>
<path d="M109.5 477.0L109.8 479.4Q110.0 480.5 108.5 481.5L104.0 484.5Q102.5 485.5 101.6 486.5L100.4 487.8Q99.5 488.8 100.4 489.4L101.6 490.1Q102.5 490.8 104.2 490.1L110.8 487.6Q112.5 487.0 114.2 486.5L119.5 485.0Q121.2 484.5 122.3 483.0L124.0 480.7Q125.0 479.2 126.5 478.7L128.5 478.0Q130.0 477.5 131.8 477.3L139.5 476.4Q141.2 476.2 141.8 474.5L142.5 472.2Q143.0 470.5 144.3 469.8L146.2 468.8Q147.5 468.0 148.9 466.8L151.1 464.9Q152.5 463.8 154.1 462.9L160.9 459.6Q162.5 458.8 163.8 457.6L165.7 456.1Q167.0 455.0 167.9 453.4L169.6 450.3Q170.5 448.8 170.9 447.0L171.6 444.3Q172.0 442.5 171.5 440.8L170.5 438.0Q170.0 436.2 169.2 434.6L167.8 431.6Q167.0 430.0 166.4 428.4L165.6 426.1Q165.0 424.5 166.5 424.3L168.5 424.0Q170.0 423.8 171.1 424.5L172.6 425.5Q173.8 426.2 174.9 427.6L177.6 430.6Q178.8 432.0 180.0 433.1L181.7 434.6Q183.0 435.8 182.9 437.5L182.6 444.5Q182.5 446.2 183.6 447.0L185.1 448.0Q186.2 448.8 188.0 448.4L190.3 447.9Q192.0 447.5 192.4 445.7L193.3 441.8Q193.8 440.0 194.5 438.4L197.2 432.9Q198.0 431.2 199.0 429.7L201.0 426.5Q202.0 425.0 203.1 425.1L204.6 425.4Q205.8 425.5 206.1 427.2L206.4 429.5Q206.8 431.2 206.9 433.0L207.3 438.2Q207.5 440.0 208.4 440.9L209.6 442.1Q210.5 443.0 211.7 443.4L213.3 444.1Q214.5 444.5 214.7 446.1L214.8 448.4Q215.0 450.0 213.7 450.9L211.8 452.1Q210.5 453.0 209.2 454.2L206.3 456.8Q205.0 458.0 203.4 458.8L199.6 460.5Q198.0 461.2 196.2 461.4L193.0 461.8Q191.2 462.0 189.5 462.4L178.0 464.6Q176.2 465.0 174.9 466.2L172.6 468.3Q171.2 469.5 170.5 470.4L169.5 471.6Q168.8 472.5 169.5 473.0L170.5 473.7Q171.2 474.2 173.0 474.1L177.7 473.9Q179.5 473.8 181.1 473.0L183.4 472.0Q185.0 471.2 186.8 470.9L198.2 468.4Q200.0 468.0 201.7 467.5L217.0 463.5Q218.8 463.0 220.5 462.8L233.2 461.4Q235.0 461.2 236.8 461.0L249.5 459.0Q251.2 458.8 253.1 458.8L288.2 458.8Q290.0 458.8 290.8 457.8L291.8 456.5Q292.5 455.5 294.0 455.4L296.0 455.1Q297.5 455.0 298.6 453.5L300.9 450.2Q302.0 448.8 302.9 448.6L304.1 448.4Q305.0 448.2 306.5 448.8L308.5 449.5Q310.0 450.0 311.4 449.2L313.1 448.2Q314.5 447.5 314.3 445.7L313.9 441.8Q313.8 440.0 314.1 439.2L314.6 438.2Q315.0 437.5 316.8 437.5L320.2 437.5Q322.0 437.5 322.7 439.1L323.8 441.4Q324.5 443.0 325.7 444.3L327.5 446.2Q328.8 447.5 330.5 447.4L335.2 447.1Q337.0 447.0 338.6 446.2L343.9 443.8Q345.5 443.0 347.2 443.5L356.3 445.8Q358.0 446.2 359.6 445.5L365.9 442.5Q367.5 441.8 369.0 441.8L371.0 441.8Q372.5 441.8 374.1 442.6L380.9 446.2Q382.5 447.0 383.8 448.2L388.7 452.5Q390.0 453.8 391.1 455.0L392.6 456.7Q393.8 458.0 393.5 459.2L393.2 460.8Q393.0 462.0 391.4 462.7L389.1 463.6Q387.5 464.2 385.8 463.8L383.0 463.0Q381.2 462.5 379.5 461.9L371.7 459.3Q370.0 458.8 368.2 458.6L359.3 458.1Q357.5 458.0 356.0 457.7L354.0 457.3Q352.5 457.0 351.0 458.0L349.0 459.5Q347.5 460.5 346.0 460.9L344.0 461.6Q342.5 462.0 340.9 461.2L338.6 460.1Q337.0 459.2 335.2 459.6L331.8 460.2Q330.0 460.5 328.2 460.2L321.8 459.1Q320.0 458.8 318.2 458.9L314.8 459.3Q313.0 459.5 313.0 460.4L313.0 461.6Q313.0 462.5 314.4 463.5L316.1 464.8Q317.5 465.8 319.3 466.0L325.7 466.8Q327.5 467.0 329.2 467.6L334.5 469.4Q336.2 470.0 338.0 470.3L350.7 472.2Q352.5 472.5 354.2 473.0L363.3 475.7Q365.0 476.2 366.7 476.8L383.3 482.4Q385.0 483.0 386.7 483.5L413.3 491.5Q415.0 492.0 416.6 492.8L428.4 499.2Q430.0 500.0 431.5 501.0L438.5 505.3Q440.0 506.3 441.5 507.3L447.3 511.0Q448.8 511.9 450.1 513.1L468.7 528.9Q470.1 530.1 471.8 530.5L474.0 531.0Q475.7 531.4 476.1 530.6L476.7 529.6Q477.2 528.8 477.1 527.1L475.8 510.9Q475.7 509.1 474.0 509.2L471.8 509.3Q470.1 509.4 469.8 507.7L469.3 504.1Q469.1 502.3 468.0 502.1L466.7 501.8Q465.7 501.5 464.3 502.7L460.8 505.8Q459.4 506.9 457.7 506.9L455.5 506.9Q453.8 506.9 452.8 506.2L451.6 505.2Q450.6 504.4 450.6 503.5L450.6 502.2Q450.6 501.3 451.8 499.9L455.1 496.1Q456.3 494.8 457.4 494.5L458.9 494.1Q460.0 493.8 461.0 492.3L462.8 489.6Q463.8 488.1 465.6 488.0L468.3 487.9Q470.1 487.8 471.6 488.6L473.6 489.8Q475.1 490.6 475.6 492.4L477.0 497.1Q477.6 498.8 478.7 499.6L480.2 500.7Q481.3 501.5 483.1 501.1L485.8 500.5Q487.6 500.0 488.5 500.2L489.8 500.5Q490.7 500.7 490.7 501.4L490.7 502.4Q490.7 503.2 489.6 504.2L488.1 505.5Q487.0 506.6 486.9 508.0L486.7 509.9Q486.6 511.3 485.1 512.3L481.6 514.7Q480.1 515.7 481.4 517.0L485.7 521.3Q487.0 522.6 488.3 523.3L490.0 524.3Q491.4 525.1 492.7 525.1L494.4 525.1Q495.7 525.1 497.3 526.1L501.1 528.5Q502.6 529.5 504.3 530.1L507.2 531.3Q508.9 532.0 510.5 531.3L513.5 529.9Q515.2 529.2 516.7 529.2L518.7 529.2Q520.2 529.2 521.6 529.7L523.5 530.3Q524.9 530.7 525.3 532.5L526.7 539.6Q527.0 541.4 528.2 542.7L529.7 544.4Q530.8 545.8 530.4 546.7L529.9 547.9Q529.6 548.9 528.4 549.0L526.9 549.1Q525.8 549.1 524.2 548.3L501.7 536.0Q500.1 535.1 498.4 534.4L495.5 533.3Q493.9 532.6 492.4 532.5L490.4 532.4Q488.8 532.4 488.8 533.2L488.7 534.3Q488.6 535.1 488.9 536.2L489.2 537.7Q489.5 538.9 491.0 539.8L508.6 549.9Q510.1 550.8 511.7 551.6L523.0 557.8Q524.5 558.7 524.4 560.5L524.3 563.4Q524.2 565.2 525.6 566.2L528.7 568.5Q530.2 569.6 531.8 570.3L537.3 572.6Q538.9 573.3 540.7 573.6L545.9 574.3Q547.7 574.6 549.2 575.6L551.2 576.9Q552.7 577.9 552.7 579.2L552.7 580.8Q552.7 582.1 553.3 583.8L554.6 587.3Q555.2 589.0 556.0 590.3L557.0 592.0Q557.7 593.4 558.9 594.7L560.9 597.0Q562.1 598.4 563.1 599.9L565.5 603.7Q566.5 605.3 566.7 607.0L567.5 613.5Q567.8 615.3 567.5 617.1L566.8 622.3Q566.5 624.0 565.8 625.7L564.1 629.9Q563.4 631.6 562.3 633.0L559.5 636.6Q558.4 638.1 557.1 636.8L554.0 633.5Q552.7 632.2 551.8 630.9L550.5 629.1Q549.6 627.8 549.4 626.0L548.6 619.6Q548.3 617.8 548.7 616.0L549.6 612.0Q550.0 610.3 550.0 608.5L550.2 592.6Q550.2 590.8 548.9 591.0L547.2 591.3Q545.8 591.5 544.8 592.9L541.3 597.5Q540.2 599.0 540.2 600.8L540.2 603.5Q540.2 605.3 539.8 606.9L539.3 609.2Q538.9 610.9 539.5 612.6L541.6 619.8Q542.1 621.5 542.5 623.3L543.5 627.3Q544.0 629.0 544.9 630.6L548.1 636.3Q549.0 637.8 550.1 639.1L551.6 640.9Q552.7 642.2 554.2 642.4L556.2 642.6Q557.7 642.8 559.3 641.9L566.2 638.1Q567.8 637.2 569.6 637.2L583.5 637.2Q585.3 637.2 586.7 636.1L593.9 630.2Q595.3 629.0 597.1 629.0L608.5 629.0Q610.3 629.0 612.1 629.2L619.8 630.1Q621.6 630.3 623.4 630.3L630.5 630.3Q632.3 630.3 633.2 629.7L634.5 629.0Q635.4 628.4 636.0 627.1L636.7 625.4Q637.3 624.0 638.0 623.1L639.0 621.8Q639.8 620.9 641.5 620.9L643.7 620.9Q645.4 620.9 646.4 620.2L647.6 619.2Q648.5 618.4 648.4 616.7L648.1 614.5Q647.9 612.8 649.7 612.4L653.7 611.6Q655.4 611.3 656.4 611.3L657.6 611.4Q658.6 611.5 659.5 612.3L660.8 613.3Q661.7 614.0 660.9 615.1L659.8 616.6Q658.9 617.8 658.7 619.6L658.2 622.3Q657.9 624.0 658.7 624.4L659.7 624.9Q660.4 625.3 662.0 624.3L687.5 608.7Q689.0 607.8 690.6 607.0L695.4 604.6Q697.0 603.8 698.7 603.1L714.1 596.9Q715.8 596.2 717.2 595.3L729.3 587.2Q730.8 586.2 732.5 586.0L736.5 585.3Q738.2 585.0 739.8 585.4L741.8 585.9Q743.2 586.2 744.4 585.3L745.9 584.0Q747.0 583.0 748.1 582.5L749.6 581.8Q750.8 581.2 752.2 581.8L754.2 582.5Q755.8 583.0 757.2 584.1L760.1 586.4Q761.5 587.5 763.3 587.8L770.2 589.0Q772.0 589.2 773.1 587.9L775.4 585.1Q776.5 583.8 776.3 582.6L776.0 581.1Q775.8 580.0 774.3 579.0L769.7 576.0Q768.2 575.0 766.6 574.4L759.2 571.8Q757.5 571.2 758.5 570.5L759.8 569.5Q760.8 568.8 762.5 568.8L769.0 568.8Q770.8 568.8 771.1 568.0L771.6 567.0Q772.0 566.2 770.9 564.8L769.3 562.7Q768.2 561.2 767.7 559.8L767.0 557.8Q766.5 556.2 767.7 554.9L769.6 552.6Q770.8 551.2 772.2 550.5L774.2 549.5Q775.8 548.8 777.5 548.8L787.7 548.8Q789.5 548.8 790.1 547.8L790.9 546.5Q791.5 545.5 791.5 543.7L791.5 540.5Q791.5 538.8 793.3 538.8L802.7 538.8Q804.5 538.8 806.1 539.6L811.7 542.9Q813.2 543.8 815.0 544.0L817.7 544.3Q819.5 544.5 821.2 543.9L826.6 541.9Q828.2 541.2 830.0 541.0L841.5 539.0Q843.2 538.8 845.0 539.2L851.5 540.8Q853.2 541.2 854.7 542.2L859.3 545.3Q860.8 546.2 862.1 547.4L885.6 566.4Q887.0 567.5 888.8 567.7L896.0 568.5Q897.8 568.8 899.1 570.0L903.2 573.8Q904.5 575.0 906.0 576.0L913.0 580.3Q914.5 581.2 915.7 582.6L922.1 589.9Q923.2 591.2 924.5 592.6L930.8 599.2Q932.0 600.5 933.6 601.3L936.7 602.9Q938.2 603.8 939.0 604.9L940.0 606.4Q940.8 607.5 940.0 608.4L939.0 609.6Q938.2 610.5 937.3 611.1L936.0 611.9Q935.0 612.5 935.2 614.3L935.6 618.2Q935.8 620.0 937.3 620.9L940.5 622.8Q942.0 623.8 942.8 625.4L944.2 628.4Q945.0 630.0 946.0 630.8L947.3 631.8Q948.2 632.5 950.0 632.1L952.7 631.6Q954.5 631.2 955.9 632.0L957.6 633.0Q959.0 633.8 959.7 635.3L960.6 637.4Q961.3 638.9 962.9 639.6L975.2 644.5Q976.9 645.2 976.8 647.0L976.4 654.6Q976.3 656.4 976.8 658.2L980.1 668.5Q980.7 670.2 980.1 671.9L978.7 676.6Q978.2 678.4 979.1 679.5L980.4 681.0Q981.3 682.1 982.9 683.0L991.6 687.5Q993.2 688.4 994.2 689.9L996.5 693.2Q997.6 694.6 998.2 696.3L1000.1 701.1Q1000.7 702.8 1002.2 702.2L1004.2 701.5Q1005.7 700.9 1007.4 701.0L1009.7 701.2Q1011.4 701.3 1012.8 702.3L1015.5 704.2Q1017.0 705.3 1018.2 706.6L1022.7 711.5Q1023.9 712.8 1024.8 714.3L1027.9 719.4Q1028.9 720.9 1028.9 722.7L1028.9 726.0Q1028.9 727.8 1029.7 729.4L1032.5 735.0Q1033.3 736.6 1035.1 736.8L1038.4 737.1Q1040.2 737.2 1041.7 737.6L1043.7 738.1Q1045.2 738.5 1046.2 740.0L1048.9 743.9Q1049.9 745.4 1049.4 746.5L1048.8 748.0Q1048.3 749.1 1048.5 750.9L1049.0 756.1Q1049.2 757.9 1050.4 758.8L1052.1 760.1Q1053.3 761.0 1055.0 761.6L1059.8 763.3Q1061.5 763.9 1063.3 763.9L1067.2 763.9Q1069.0 763.9 1070.7 764.2L1083.5 766.4Q1085.3 766.7 1087.0 766.8L1096.0 767.2Q1097.8 767.3 1099.5 767.6L1102.9 768.2Q1104.7 768.5 1105.6 770.0L1106.9 772.1Q1107.8 773.6 1107.1 775.2L1106.0 778.1Q1105.3 779.8 1105.5 781.3L1105.7 783.3Q1105.9 784.8 1107.2 785.5L1109.0 786.3Q1110.3 787.0 1111.8 787.3L1113.8 787.7Q1115.3 788.0 1116.6 789.2L1119.0 791.7Q1120.3 793.0 1120.2 794.5L1120.1 796.5Q1120.0 798.0 1119.6 799.5L1119.1 801.5Q1118.8 803.0 1119.8 804.4L1121.4 806.6Q1122.5 808.0 1122.8 809.8L1123.5 813.7Q1123.8 815.5 1125.0 816.8L1127.5 819.2Q1128.8 820.5 1130.3 821.4L1134.7 824.1Q1136.2 825.0 1137.5 826.3L1140.0 829.2Q1141.2 830.5 1142.4 831.9L1144.4 834.6Q1145.5 836.0 1144.6 837.2L1143.4 838.8Q1142.5 840.0 1140.7 840.1L1135.5 840.4Q1133.8 840.5 1132.8 841.2L1131.5 842.2Q1130.5 843.0 1130.4 844.8L1130.1 847.5Q1130.0 849.2 1131.1 850.5L1132.6 852.2Q1133.8 853.5 1135.5 854.0L1138.8 855.0Q1140.5 855.5 1140.5 857.3L1140.5 860.0Q1140.5 861.8 1139.8 863.4L1138.7 866.3Q1138.0 868.0 1138.2 869.5L1138.5 871.5Q1138.8 873.0 1139.7 874.4L1141.0 876.1Q1142.0 877.5 1141.8 879.1L1141.5 881.4Q1141.2 883.0 1140.3 884.5L1138.4 887.7Q1137.5 889.2 1136.6 890.8L1135.4 892.8Q1134.5 894.2 1134.5 896.0L1134.5 898.7Q1134.5 900.5 1134.9 902.2L1136.6 908.8Q1137.0 910.5 1136.9 912.3L1136.4 918.7Q1136.2 920.5 1135.6 922.2L1133.1 928.8Q1132.5 930.5 1131.9 932.0L1131.1 934.0Q1130.5 935.5 1131.2 936.6L1132.2 938.1Q1133.0 939.2 1132.5 940.8L1131.8 942.8Q1131.2 944.2 1130.3 945.8L1129.0 947.8Q1128.0 949.2 1127.4 950.9L1122.6 963.8Q1122.0 965.5 1122.0 967.3L1122.0 973.7Q1122.0 975.5 1121.6 977.3L1120.4 982.5Q1120.0 984.2 1119.1 985.8L1114.6 993.9Q1113.8 995.5 1112.7 997.0L1108.0 1003.5Q1107.0 1005.0 1107.2 1006.6L1107.3 1008.9Q1107.5 1010.5 1107.9 1012.3L1109.6 1021.2Q1110.0 1023.0 1109.9 1024.8L1109.6 1033.7Q1109.5 1035.5 1108.9 1037.2L1106.8 1043.8Q1106.2 1045.5 1105.4 1047.1L1100.8 1056.4Q1100.0 1058.0 1099.4 1059.7L1096.9 1066.3Q1096.2 1068.0 1096.4 1069.8L1096.9 1076.2Q1097.0 1078.0 1097.6 1079.7L1099.4 1085.0Q1100.0 1086.8 1101.1 1087.9L1102.6 1089.4Q1103.8 1090.5 1104.5 1089.2L1105.5 1087.3Q1106.2 1086.0 1107.4 1086.2L1108.9 1086.5Q1110.0 1086.8 1110.9 1087.5L1112.1 1088.5Q1113.0 1089.2 1113.4 1091.0L1114.6 1096.2Q1115.0 1098.0 1115.5 1099.7L1116.5 1103.8Q1117.0 1105.5 1118.4 1106.6L1121.1 1108.9Q1122.5 1110.0 1124.1 1110.7L1126.4 1111.8Q1128.0 1112.5 1129.1 1113.9L1131.4 1116.6Q1132.5 1118.0 1134.0 1118.0L1136.0 1118.0Q1137.5 1118.0 1138.6 1117.4L1140.1 1116.6Q1141.2 1116.0 1141.4 1114.2L1141.8 1109.8Q1142.0 1108.0 1142.1 1106.2L1142.9 1094.8Q1143.0 1093.0 1142.8 1091.2L1142.2 1084.8Q1142.0 1083.0 1142.8 1082.1L1143.8 1080.9Q1144.5 1080.0 1143.8 1079.4L1142.8 1078.6Q1142.0 1078.0 1140.8 1077.6L1139.2 1077.1Q1138.0 1076.8 1137.1 1075.2L1135.4 1072.1Q1134.5 1070.5 1132.8 1069.8L1130.4 1068.7Q1128.8 1068.0 1127.0 1067.5L1124.2 1066.5Q1122.5 1066.0 1122.3 1064.3L1122.2 1062.2Q1122.0 1060.5 1123.3 1059.4L1125.0 1057.9Q1126.2 1056.8 1126.4 1055.0L1127.8 1042.3Q1128.0 1040.5 1128.8 1040.1L1129.8 1039.6Q1130.5 1039.2 1131.3 1040.8L1132.9 1043.9Q1133.8 1045.5 1134.7 1046.1L1136.0 1046.9Q1137.0 1047.5 1138.3 1046.9L1140.0 1046.1Q1141.2 1045.5 1142.6 1046.7L1147.4 1050.6Q1148.8 1051.8 1150.4 1052.5L1155.8 1054.8Q1157.5 1055.5 1158.8 1056.8L1161.2 1059.2Q1162.5 1060.5 1162.5 1062.3L1162.5 1078.7Q1162.5 1080.5 1163.5 1082.0L1165.2 1084.5Q1166.2 1086.0 1167.8 1086.8L1170.9 1088.4Q1172.5 1089.2 1173.2 1087.8L1174.2 1085.8Q1175.0 1084.2 1174.9 1082.5L1174.6 1076.0Q1174.5 1074.2 1175.4 1072.7L1177.1 1069.6Q1178.0 1068.0 1178.5 1066.3L1179.5 1062.7Q1180.0 1061.0 1181.1 1060.7L1182.6 1060.3Q1183.8 1060.0 1184.5 1060.8L1185.5 1061.8Q1186.2 1062.5 1187.4 1062.8L1188.9 1063.2Q1190.0 1063.5 1190.2 1065.3L1191.1 1075.0Q1191.2 1076.8 1192.0 1078.4L1195.5 1085.9Q1196.2 1087.5 1195.2 1089.0L1186.1 1101.5Q1185.0 1103.0 1183.3 1103.7L1177.9 1106.0Q1176.2 1106.8 1176.2 1108.2L1176.2 1110.2Q1176.2 1111.8 1176.6 1113.5L1177.1 1116.2Q1177.5 1118.0 1176.0 1119.0L1171.5 1122.0Q1170.0 1123.0 1168.7 1124.3L1166.3 1126.7Q1165.0 1128.0 1163.3 1128.7L1160.4 1129.8Q1158.8 1130.5 1158.5 1132.3L1157.7 1138.7Q1157.5 1140.5 1156.2 1141.8L1151.8 1146.2Q1150.5 1147.5 1151.2 1149.1L1152.3 1151.4Q1153.0 1153.0 1153.3 1154.8L1154.2 1161.2Q1154.5 1163.0 1153.2 1163.4L1151.3 1163.9Q1150.0 1164.2 1148.2 1164.1L1139.3 1163.6Q1137.5 1163.5 1137.0 1165.2L1135.5 1170.0Q1135.0 1171.8 1134.5 1173.5L1133.5 1177.5Q1133.0 1179.2 1134.0 1180.0L1135.3 1181.0Q1136.2 1181.8 1138.0 1182.3L1142.0 1183.7Q1143.8 1184.2 1145.3 1185.2L1155.5 1192.0Q1157.0 1193.0 1157.1 1194.8L1157.4 1206.2Q1157.5 1208.0 1158.2 1209.7L1163.8 1224.1Q1164.5 1225.8 1163.8 1225.8L1162.8 1225.9Q1162.0 1226.0 1162.7 1227.7L1165.5 1234.3Q1166.2 1236.0 1167.2 1237.5L1172.8 1245.8Q1173.8 1247.2 1174.5 1248.9L1176.8 1254.3Q1177.5 1256.0 1177.1 1257.8L1175.9 1264.2Q1175.5 1266.0 1176.2 1267.7L1178.0 1271.8Q1178.8 1273.5 1179.8 1274.9L1185.2 1282.1Q1186.2 1283.5 1187.1 1285.1L1190.4 1290.7Q1191.2 1292.2 1192.4 1293.6L1196.3 1298.4Q1197.5 1299.8 1198.8 1301.0L1203.2 1305.3Q1204.5 1306.5 1204.8 1308.3L1205.9 1314.2Q1206.2 1316.0 1207.4 1317.4L1210.1 1320.8Q1211.2 1322.2 1212.4 1323.7L1215.1 1327.1Q1216.2 1328.5 1216.6 1329.2L1217.1 1330.2Q1217.5 1331.0 1218.4 1330.6L1219.6 1330.1Q1220.5 1329.8 1221.5 1331.2L1223.5 1334.0Q1224.5 1335.5 1226.3 1335.1L1229.5 1334.4Q1231.2 1334.0 1233.0 1334.5L1238.3 1336.0Q1240.0 1336.5 1241.1 1336.0L1242.6 1335.3Q1243.8 1334.8 1243.8 1333.0L1243.8 1329.0Q1243.8 1327.2 1243.2 1325.5L1241.8 1321.5Q1241.2 1319.8 1240.1 1318.4L1233.7 1311.1Q1232.5 1309.8 1231.4 1308.4L1226.1 1301.9Q1225.0 1300.5 1224.1 1299.5L1222.9 1298.2Q1222.0 1297.2 1222.2 1295.5L1222.3 1293.2Q1222.5 1291.5 1223.2 1291.2L1224.2 1290.8Q1225.0 1290.5 1226.6 1291.4L1232.2 1294.6Q1233.8 1295.5 1235.3 1296.4L1242.2 1300.1Q1243.8 1301.0 1245.5 1300.9L1253.2 1300.6Q1255.0 1300.5 1256.8 1300.1L1262.0 1298.9Q1263.8 1298.5 1264.9 1297.9L1266.4 1297.1Q1267.5 1296.5 1268.4 1297.1L1269.6 1297.9Q1270.5 1298.5 1270.3 1300.2L1270.2 1302.3Q1270.0 1304.0 1268.5 1304.6L1266.5 1305.4Q1265.0 1306.0 1263.3 1306.5L1258.7 1308.0Q1257.0 1308.5 1256.0 1310.0L1254.7 1312.0Q1253.8 1313.5 1254.9 1314.9L1257.6 1318.3Q1258.8 1319.8 1259.5 1321.4L1261.8 1326.8Q1262.5 1328.5 1262.8 1330.3L1264.2 1339.2Q1264.5 1341.0 1263.7 1342.6L1260.8 1348.1Q1260.0 1349.8 1259.4 1351.5L1257.6 1356.8Q1257.0 1358.5 1256.9 1360.3L1256.4 1366.7Q1256.2 1368.5 1256.9 1370.2L1258.1 1373.1Q1258.8 1374.8 1259.7 1375.5L1261.0 1376.5Q1262.0 1377.2 1262.7 1378.9L1263.8 1381.3Q1264.5 1383.0 1264.4 1384.8L1263.9 1390.5Q1263.8 1392.2 1264.2 1394.0L1265.0 1396.8Q1265.5 1398.5 1266.5 1399.1L1267.8 1399.9Q1268.8 1400.5 1270.5 1400.5L1278.7 1400.5Q1280.5 1400.5 1280.7 1401.5L1281.0 1403.0Q1281.2 1404.0 1279.8 1405.1L1276.9 1407.4Q1275.5 1408.5 1276.0 1409.8L1276.5 1411.7Q1277.0 1413.0 1277.9 1414.0L1279.1 1415.5Q1280.0 1416.5 1281.5 1416.7L1283.5 1417.0Q1285.0 1417.2 1286.3 1418.5L1292.5 1424.7Q1293.8 1426.0 1294.5 1426.2L1295.5 1426.3Q1296.2 1426.5 1297.9 1425.8L1300.3 1424.7Q1302.0 1424.0 1302.9 1424.2L1304.1 1424.5Q1305.0 1424.8 1304.9 1426.5L1304.6 1431.7Q1304.5 1433.5 1305.8 1434.7L1308.2 1436.8Q1309.5 1438.0 1309.5 1439.8L1309.5 1464.2Q1309.5 1466.0 1309.7 1467.8L1311.1 1481.7Q1311.2 1483.5 1311.6 1485.3L1314.6 1499.2Q1315.0 1501.0 1315.5 1502.7L1323.3 1530.5Q1323.8 1532.2 1324.5 1533.9L1328.0 1541.9Q1328.8 1543.5 1329.1 1543.3L1329.6 1543.2Q1330.0 1543.0 1330.8 1544.6L1332.9 1548.9Q1333.8 1550.5 1335.3 1551.4L1338.5 1553.3Q1340.0 1554.2 1341.8 1554.0L1345.7 1553.3Q1347.5 1553.0 1349.2 1553.6L1353.3 1554.9Q1355.0 1555.5 1356.8 1555.1L1359.5 1554.6Q1361.2 1554.2 1362.8 1555.2L1366.0 1557.1Q1367.5 1558.0 1368.6 1557.2L1370.1 1556.2Q1371.2 1555.5 1372.5 1555.7L1374.2 1555.8Q1375.5 1556.0 1376.5 1557.5L1377.8 1559.5Q1378.8 1561.0 1380.4 1561.7L1388.4 1565.3Q1390.0 1566.0 1391.5 1567.0L1398.5 1572.0Q1400.0 1573.0 1401.3 1574.3L1406.2 1579.2Q1407.5 1580.5 1408.5 1582.0L1412.8 1589.0Q1413.8 1590.5 1414.4 1592.2L1419.3 1603.8Q1420.0 1605.5 1421.2 1606.8L1428.8 1615.4Q1430.0 1616.8 1430.7 1618.4L1434.3 1626.4Q1435.0 1628.0 1435.8 1629.6L1439.2 1636.4Q1440.0 1638.0 1441.6 1638.7L1443.9 1639.8Q1445.5 1640.5 1445.7 1641.6L1446.0 1643.1Q1446.2 1644.2 1445.5 1645.8L1444.5 1647.8Q1443.8 1649.2 1444.9 1650.7L1447.6 1654.1Q1448.8 1655.5 1450.0 1656.8L1452.5 1659.7Q1453.8 1661.0 1454.0 1662.8L1454.8 1670.0Q1455.0 1671.8 1455.9 1673.3L1457.8 1676.5Q1458.8 1678.0 1460.3 1678.9L1468.4 1683.4Q1470.0 1684.2 1471.8 1684.0L1475.7 1683.3Q1477.5 1683.0 1479.1 1683.9L1484.7 1687.1Q1486.2 1688.0 1487.9 1688.7L1490.8 1689.8Q1492.5 1690.5 1493.2 1692.2L1494.3 1695.1Q1495.0 1696.8 1496.5 1696.5L1498.5 1696.2Q1500.0 1696.0 1501.8 1695.7L1504.5 1695.3Q1506.2 1695.0 1507.2 1695.5L1508.5 1696.2Q1509.5 1696.8 1509.1 1698.5L1508.4 1702.5Q1508.0 1704.2 1507.5 1705.4L1506.8 1706.9Q1506.2 1708.0 1506.8 1709.5L1507.5 1711.5Q1508.0 1713.0 1506.7 1714.2L1503.8 1716.8Q1502.5 1718.0 1500.8 1718.7L1494.7 1721.1Q1493.0 1721.8 1491.4 1721.0L1484.1 1717.5Q1482.5 1716.8 1481.3 1715.4L1476.2 1709.4Q1475.0 1708.0 1473.8 1706.6L1467.4 1699.4Q1466.2 1698.0 1464.5 1697.6L1461.8 1697.1Q1460.0 1696.8 1458.5 1697.5L1456.5 1698.5Q1455.0 1699.2 1454.5 1701.0L1453.0 1706.3Q1452.5 1708.0 1452.8 1709.8L1454.2 1718.7Q1454.5 1720.5 1455.3 1722.1L1459.2 1730.1Q1460.0 1731.8 1461.1 1733.2L1466.4 1740.3Q1467.5 1741.8 1469.0 1742.3L1471.0 1743.2Q1472.5 1743.8 1474.2 1743.2L1479.5 1741.5Q1481.2 1741.0 1483.0 1741.2L1490.7 1742.3Q1492.5 1742.5 1494.2 1741.9L1500.8 1739.8Q1502.5 1739.2 1504.0 1738.2L1512.3 1732.1Q1513.8 1731.0 1515.5 1731.0L1522.0 1731.0Q1523.8 1731.0 1525.4 1731.8L1533.4 1735.9Q1535.0 1736.8 1536.8 1736.8L1552.0 1736.8Q1553.8 1736.8 1555.2 1735.8L1559.8 1732.7Q1561.2 1731.8 1563.0 1731.3L1568.3 1729.7Q1570.0 1729.2 1571.8 1729.0L1574.5 1728.7Q1576.2 1728.5 1577.0 1727.6L1578.0 1726.4Q1578.8 1725.5 1578.4 1723.8L1577.9 1721.7Q1577.5 1720.0 1578.2 1719.0L1579.2 1717.7Q1580.0 1716.8 1581.7 1717.3L1585.8 1718.7Q1587.5 1719.2 1588.8 1720.5L1593.7 1724.8Q1595.0 1726.0 1596.1 1725.8L1597.6 1725.7Q1598.8 1725.5 1599.5 1724.0L1600.5 1722.0Q1601.2 1720.5 1602.4 1720.1L1603.9 1719.6Q1605.0 1719.2 1606.7 1719.9L1609.6 1721.1Q1611.2 1721.8 1611.8 1720.0L1614.5 1711.0Q1615.0 1709.2 1616.3 1708.0L1620.0 1704.3Q1621.2 1703.0 1621.6 1701.2L1622.6 1696.8Q1623.0 1695.0 1624.6 1694.2L1632.1 1690.8Q1633.8 1690.0 1634.1 1688.2L1635.2 1682.3Q1635.5 1680.5 1634.6 1678.9L1632.1 1674.6Q1631.2 1673.0 1630.8 1671.3L1629.2 1664.7Q1628.8 1663.0 1629.2 1661.3L1630.8 1656.0Q1631.2 1654.2 1632.1 1652.6L1635.4 1645.9Q1636.2 1644.2 1636.4 1642.5L1636.9 1634.8Q1637.0 1633.0 1637.7 1631.3L1639.3 1627.2Q1640.0 1625.5 1641.5 1624.6L1644.7 1622.7Q1646.2 1621.8 1646.5 1620.0L1647.2 1616.0Q1647.5 1614.2 1647.9 1612.5L1649.6 1606.0Q1650.0 1604.2 1650.8 1603.1L1651.8 1601.6Q1652.5 1600.5 1654.0 1599.6L1658.5 1596.9Q1660.0 1596.0 1660.4 1594.2L1662.1 1587.3Q1662.5 1585.5 1662.7 1583.7L1663.6 1576.0Q1663.8 1574.2 1664.7 1572.7L1666.1 1570.3Q1667.0 1568.8 1667.9 1568.9L1669.1 1569.1Q1670.0 1569.2 1669.9 1571.0L1669.6 1578.7Q1669.5 1580.5 1670.0 1582.2L1670.8 1585.0Q1671.2 1586.8 1672.2 1587.1L1673.5 1587.6Q1674.5 1588.0 1675.4 1586.5L1676.6 1584.5Q1677.5 1583.0 1677.6 1581.2L1677.9 1572.3Q1678.0 1570.5 1677.8 1568.7L1676.5 1558.5Q1676.2 1556.8 1676.4 1555.0L1677.8 1539.8Q1678.0 1538.0 1678.1 1536.2L1679.4 1517.3Q1679.5 1515.5 1679.9 1513.7L1680.8 1509.8Q1681.2 1508.0 1681.1 1507.4L1680.9 1506.6Q1680.8 1506.0 1681.1 1504.2L1684.1 1490.3Q1684.5 1488.5 1684.6 1486.7L1686.9 1457.8Q1687.0 1456.0 1687.2 1454.2L1690.5 1427.8Q1690.8 1426.0 1691.0 1424.2L1694.3 1397.8Q1694.5 1396.0 1694.6 1394.2L1696.4 1367.8Q1696.5 1366.0 1696.4 1364.2L1694.6 1335.3Q1694.5 1333.5 1694.2 1331.7L1691.0 1312.8Q1690.8 1311.0 1690.3 1309.3L1684.9 1287.7Q1684.5 1286.0 1683.9 1284.3L1678.9 1270.2Q1678.2 1268.5 1677.4 1266.9L1674.1 1261.3Q1673.2 1259.8 1671.8 1259.2L1669.8 1258.5Q1668.2 1258.0 1666.6 1257.3L1662.4 1255.5Q1660.8 1254.8 1660.5 1253.2L1660.2 1251.2Q1660.0 1249.8 1661.0 1248.2L1662.3 1246.2Q1663.2 1244.8 1662.9 1243.0L1661.1 1235.3Q1660.8 1233.5 1659.8 1232.0L1656.7 1227.5Q1655.8 1226.0 1655.2 1224.3L1653.8 1219.7Q1653.2 1218.0 1652.5 1216.4L1645.2 1199.6Q1644.5 1198.0 1643.7 1196.4L1635.8 1179.6Q1635.0 1178.0 1635.1 1176.2L1635.6 1167.3Q1635.8 1165.5 1635.5 1163.7L1634.7 1157.3Q1634.5 1155.5 1634.0 1153.8L1631.2 1143.5Q1630.8 1141.8 1630.0 1140.1L1622.8 1124.6Q1622.0 1123.0 1621.2 1121.4L1614.1 1107.1Q1613.2 1105.5 1612.6 1103.8L1607.7 1092.2Q1607.0 1090.5 1606.1 1088.9L1595.4 1070.8Q1594.5 1069.2 1593.8 1067.6L1584.0 1044.7Q1583.2 1043.0 1582.5 1041.4L1570.2 1014.6Q1569.5 1013.0 1568.9 1011.3L1555.1 975.9Q1554.5 974.2 1553.9 972.6L1547.6 954.7Q1547.0 953.0 1546.5 951.3L1538.8 924.7Q1538.2 923.0 1537.8 921.3L1529.9 889.7Q1529.5 888.0 1529.1 886.3L1524.9 869.7Q1524.5 868.0 1524.4 866.2L1524.1 863.5Q1524.0 861.8 1525.0 861.4L1526.5 860.9Q1527.5 860.5 1528.7 861.8L1533.3 866.7Q1534.5 868.0 1536.1 868.7L1538.4 869.8Q1540.0 870.5 1541.0 869.8L1542.3 868.8Q1543.2 868.0 1542.9 866.5L1542.4 864.5Q1542.0 863.0 1541.0 861.5L1534.2 850.8Q1533.2 849.2 1532.2 847.8L1523.0 834.5Q1522.0 833.0 1521.1 831.4L1513.4 818.3Q1512.5 816.8 1512.6 815.0L1513.1 806.0Q1513.2 804.2 1512.8 802.5L1512.0 799.7Q1511.5 798.0 1509.8 797.3L1507.4 796.2Q1505.8 795.5 1504.0 795.1L1501.7 794.6Q1500.0 794.2 1500.1 792.5L1500.6 784.8Q1500.8 783.0 1500.5 781.2L1498.5 769.8Q1498.2 768.0 1497.3 766.5L1493.0 759.5Q1492.0 758.0 1491.8 757.9L1491.7 757.8Q1491.5 757.8 1490.7 756.1L1474.8 721.6Q1474.0 720.0 1473.6 718.2L1471.9 709.3Q1471.5 707.5 1470.8 705.8L1460.9 681.7Q1460.2 680.0 1459.5 678.3L1449.2 654.2Q1448.5 652.5 1448.1 650.7L1446.9 644.3Q1446.5 642.5 1445.2 641.4L1443.3 639.9Q1442.0 638.8 1441.2 637.1L1439.8 634.1Q1439.0 632.5 1438.9 630.7L1437.9 614.3Q1437.8 612.5 1437.4 610.7L1435.6 603.0Q1435.2 601.2 1434.1 599.9L1430.7 595.9Q1429.5 594.5 1430.1 592.8L1432.2 586.7Q1432.8 585.0 1432.4 583.2L1430.6 574.3Q1430.2 572.5 1429.8 570.8L1424.5 551.7Q1424.0 550.0 1423.5 548.3L1418.2 529.2Q1417.8 527.5 1417.4 525.7L1413.9 509.3Q1413.5 507.5 1413.3 505.7L1412.2 491.8Q1412.0 490.0 1411.6 488.2L1409.4 477.3Q1409.0 475.5 1408.1 474.8L1406.9 473.8Q1406.0 473.0 1404.7 473.8L1402.8 474.8Q1401.5 475.5 1399.9 476.2L1397.6 477.3Q1396.0 478.0 1395.2 476.7L1394.2 475.0Q1393.5 473.8 1394.3 472.1L1395.7 469.1Q1396.5 467.5 1397.0 465.8L1398.0 461.7Q1398.5 460.0 1398.5 458.2L1398.5 451.8Q1398.5 450.0 1397.9 448.3L1396.6 444.2Q1396.0 442.5 1395.7 440.7L1394.3 431.8Q1394.0 430.0 1393.2 428.4L1391.0 423.6Q1390.2 422.0 1390.8 420.3L1393.5 411.7Q1394.0 410.0 1394.3 408.2L1395.0 403.8Q1395.2 402.0 1393.5 402.4L1385.8 404.1Q1384.0 404.5 1382.6 403.4L1377.9 399.8Q1376.5 398.8 1375.8 397.1L1374.0 393.0"/>
</g>
<rect x="1768" y="817" width="60" height="60.5" fill="#1874CD" shape-rendering="crispEdges"/>
<rect x="1768" y="877" width="60" height="60.5" fill="#4B939F" shape-rendering="crispEdges"/>
<rect x="1768" y="937" width="60" height="60.5" fill="#7FB272" shape-rendering="crispEdges"/>
<rect x="1768" y="997" width="60" height="60.5" fill="#B2D144" shape-rendering="crispEdges"/>
<rect x="1768" y="1057" width="60" height="60.5" fill="#E5F017" shape-rendering="crispEdges"/>
<rect x="1768" y="1117" width="60" height="60.5" fill="#F9E300" shape-rendering="crispEdges"/>
<rect x="1768" y="1177" width="60" height="60.5" fill="#EEAA00" shape-rendering="crispEdges"/>
<rect x="1768" y="1237" width="60" height="60.5" fill="#E37100" shape-rendering="crispEdges"/>
<rect x="1768" y="1297" width="60" height="60.5" fill="#D83900" shape-rendering="crispEdges"/>
<rect x="1768" y="1357" width="60" height="60.5" fill="#CD0000" shape-rendering="crispEdges"/>
<g font-family="Liberation Sans, Arial, Helvetica, sans-serif" fill="#000">
<text x="882" y="154.9" font-size="45.6" font-weight="bold" text-anchor="middle">Diorhabda carinulata: Pupae relative pop. size 03/31/2019</text>
<text x="882" y="215.8" font-size="35.8" text-anchor="middle">Maps and modeling 08/26/2020 by Oregon State University IPPC USPEST.ORG and</text>
<text x="882" y="259.8" font-size="35.8" text-anchor="middle">USDA-APHIS-PPQ; climate data from OSU PRISM Climate Group</text>
<text x="1768" y="796" font-size="34.8" font-weight="bold">Relative pop. size</text>
<text x="1845" y="858.2" font-size="29.3">0-10</text>
<text x="1845" y="918.2" font-size="29.3">10-20</text>
<text x="1845" y="978.2" font-size="29.3">20-30</text>
<text x="1845" y="1038.2" font-size="29.3">30-40</text>
<text x="1845" y="1098.2" font-size="29.3">40-50</text>
<text x="1845" y="1158.2" font-size="29.3">50-60</text>
<text x="1845" y="1218.2" font-size="29.3">60-70</text>
<text x="1845" y="1278.2" font-size="29.3">70-80</text>
<text x="1845" y="1338.2" font-size="29.3">80-90</text>
<text x="1845" y="1398.2" font-size="29.3">90-100</text>
</g>
</svg>
</body></html>
